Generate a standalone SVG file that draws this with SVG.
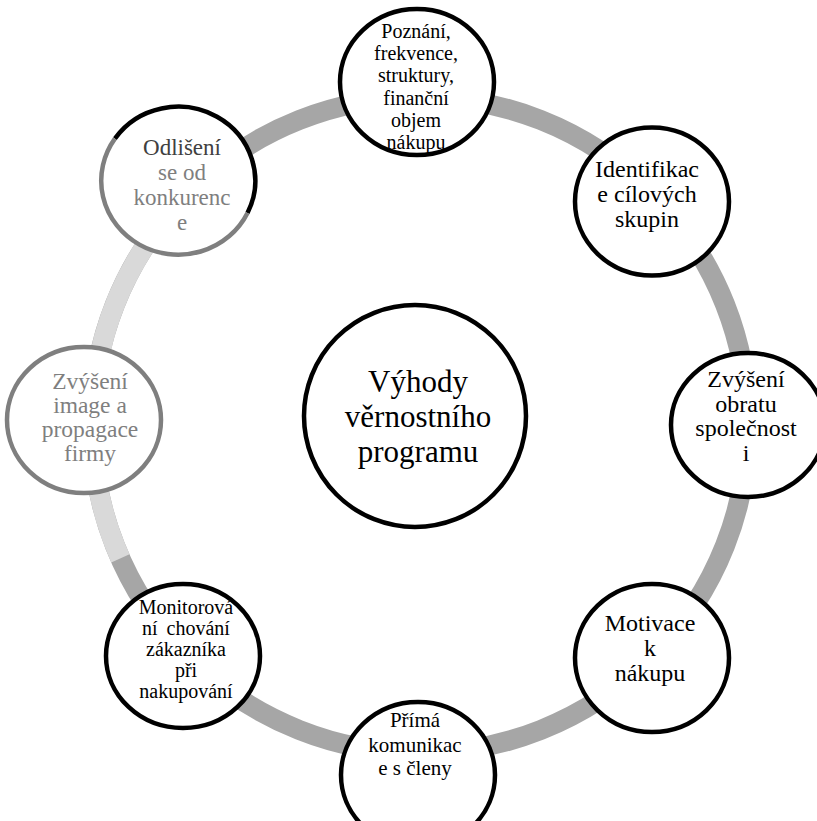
<svg xmlns="http://www.w3.org/2000/svg" width="817" height="821" viewBox="0 0 817 821">
<style>
text{font-family:"Liberation Serif","Times New Roman",serif;text-anchor:middle;fill:#000}
.n{fill:#fff;stroke:#000;stroke-width:4.5}
.ring{fill:none;stroke:#a6a6a6;stroke-width:20}
.ringl{fill:none;stroke:#d9d9d9;stroke-width:20}
.g{fill:#7f7f7f}
.f24{font-size:24px}
.f21{font-size:21px}
.f20{font-size:20px}
</style>
<rect width="817" height="821" fill="#fff"/>
<g id="connectors">
<circle class="ring" cx="420" cy="425" r="328"/>
<path class="ringl" d="M120.4,558.4 A328,328 0 0 1 231.9,156.3"/>
</g>
<g id="center">
<circle class="n" cx="415" cy="416" r="111"/>
<text style="font-size:31px"><tspan x="418" y="392">Výhody</tspan><tspan x="418" y="427">věrnostního</tspan><tspan x="418" y="462">programu</tspan></text>
</g>
<g id="n1">
<ellipse class="n" cx="417" cy="82" rx="77" ry="73"/>
<text class="f20"><tspan x="416" y="38">Poznání,</tspan><tspan x="416" y="60.2">frekvence,</tspan><tspan x="416" y="82.4">struktury,</tspan><tspan x="416" y="104.6">finanční</tspan><tspan x="416" y="126.8">objem</tspan><tspan x="416" y="149">nákupu</tspan></text>
</g>
<g id="n2">
<ellipse class="n" cx="652" cy="201.5" rx="77" ry="74"/>
<text class="f24"><tspan x="647" y="177">Identifikac</tspan><tspan x="647" y="202">e cílových</tspan><tspan x="647" y="227">skupin</tspan></text>
</g>
<g id="n3">
<ellipse class="n" cx="748" cy="425" rx="77" ry="72"/>
<text class="f24"><tspan x="746" y="387">Zvýšení</tspan><tspan x="746" y="411.5">obratu</tspan><tspan x="746" y="436">společnost</tspan><tspan x="746" y="460.5">i</tspan></text>
</g>
<g id="n4">
<ellipse class="n" cx="652" cy="658" rx="77" ry="74"/>
<text class="f24"><tspan x="650" y="630.5">Motivace</tspan><tspan x="650" y="655.5">k</tspan><tspan x="650" y="680.5">nákupu</tspan></text>
</g>
<g id="n5">
<ellipse class="n" cx="418" cy="775" rx="77" ry="73"/>
<text class="f21"><tspan x="415" y="727">Přímá</tspan><tspan x="415" y="751.5">komunikac</tspan><tspan x="415" y="775">e s členy</tspan></text>
</g>
<g id="n6">
<ellipse class="n" cx="183" cy="656" rx="77" ry="72"/>
<text class="f20"><tspan x="186" y="614">Monitorová</tspan><tspan x="186" y="635" word-spacing="4">ní chování</tspan><tspan x="186" y="656">zákazníka</tspan><tspan x="186" y="677">při</tspan><tspan x="186" y="698">nakupování</tspan></text>
</g>
<g id="n7">
<ellipse cx="84" cy="420" rx="77" ry="73" fill="#fff" stroke="#7f7f7f" stroke-width="4.5"/>
<text style="font-size:23.5px" class="g"><tspan x="90" y="388.5">Zvýšení</tspan><tspan x="90" y="412.5">image a</tspan><tspan x="90" y="437">propagace</tspan><tspan x="90" y="460.5">firmy</tspan></text>
</g>
<g id="n8">
<ellipse cx="178" cy="181" rx="77" ry="74" fill="#fff"/>
<path d="M114.9,138.6 A77,74 0 0 1 247.5,213" fill="none" stroke="#000" stroke-width="4.5"/>
<path d="M247.5,213 A77,74 0 1 1 114.9,138.6" fill="none" stroke="#7f7f7f" stroke-width="4.5"/>
<text style="font-size:23px"><tspan x="182" y="155" fill="#404040">Odlišení</tspan><tspan x="182" y="180" class="g">se od</tspan><tspan x="182" y="205" class="g">konkurenc</tspan><tspan x="182" y="230" class="g">e</tspan></text>
</g>
</svg>
